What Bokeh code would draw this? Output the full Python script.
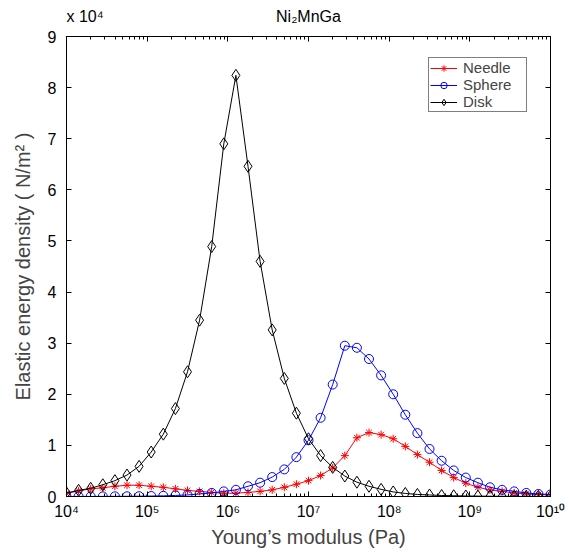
import numpy as np
from bokeh.plotting import figure
from bokeh.models import (Range1d, FixedTicker, LinearAxis, LogAxis,
                          Legend, LegendItem)
from bokeh.embed import file_html
from bokeh.resources import INLINE

# ---- data (values in units of 1e4 N/m^2) ----
youngs_modulus = np.logspace(4, 10, 41)

needle = [0.06, 0.11, 0.15, 0.17, 0.20, 0.22, 0.22, 0.20, 0.18, 0.15,
          0.12, 0.10, 0.08, 0.065, 0.065, 0.08, 0.10, 0.13, 0.18, 0.24,
          0.31, 0.41, 0.56, 0.80, 1.15, 1.25, 1.21, 1.13, 0.98, 0.82,
          0.67, 0.51, 0.37, 0.26, 0.18, 0.13, 0.10, 0.07, 0.05, 0.04, 0.03]

sphere = [0.0, 0.001, 0.001, 0.002, 0.003, 0.004, 0.006, 0.009, 0.013, 0.02,
          0.03, 0.05, 0.07, 0.10, 0.13, 0.20, 0.27, 0.38, 0.53, 0.77,
          1.10, 1.54, 2.19, 2.95, 2.91, 2.69, 2.37, 2.00, 1.60, 1.24,
          0.93, 0.70, 0.51, 0.37, 0.27, 0.18, 0.13, 0.10, 0.07, 0.05, 0.04]

disk = [0.07, 0.12, 0.16, 0.23, 0.31, 0.42, 0.59, 0.87, 1.22, 1.72,
        2.44, 3.45, 4.89, 6.90, 8.24, 6.46, 4.60, 3.26, 2.31, 1.63,
        1.13, 0.80, 0.57, 0.40, 0.28, 0.20, 0.14, 0.09, 0.06, 0.04,
        0.03, 0.02, 0.015, 0.01, 0.008, 0.005, 0.004, 0.003, 0.002, 0.001, 0.001]

x_ticks = [10**4, 10**5, 10**6, 10**7, 10**8, 10**9, 10**10]
x_tick_labels = ["10⁴", "10⁵", "10⁶", "10⁷", "10⁸", "10⁹", "10¹⁰"]
y_ticks = [0, 1, 2, 3, 4, 5, 6, 7, 8, 9]
title_text = "Ni₂MnGa"
multiplier_text = "x 10⁴"

FONT = "Liberation Sans"

p = figure(output_backend="svg", toolbar_location=None,
           x_axis_type="log",
           frame_width=484, frame_height=460,
           min_border_left=66, min_border_right=19,
           min_border_top=36, min_border_bottom=63,
           x_range=Range1d(1e4, 1e10), y_range=Range1d(0, 9))
p.grid.visible = False
p.outline_line_color = "black"
p.background_fill_color = "white"

minor = [k * 10**d for d in range(4, 10) for k in range(2, 10)]
xt = FixedTicker(ticks=x_ticks, minor_ticks=minor)
yt = FixedTicker(ticks=y_ticks)


def style_axis(ax, labels=True):
    ax.axis_line_color = "black"
    ax.major_tick_line_color = "black"
    ax.minor_tick_line_color = "black"
    ax.major_tick_in = 5
    ax.major_tick_out = 0
    ax.minor_tick_in = 3
    ax.minor_tick_out = 0
    ax.major_label_text_font = FONT
    ax.major_label_text_font_size = "16px"
    ax.major_label_text_color = "black"
    ax.axis_label_text_font = FONT
    ax.axis_label_text_font_size = "20px"
    ax.axis_label_text_font_style = "normal"
    if not labels:
        ax.major_label_text_font_size = "0px"
        ax.major_label_text_alpha = 0
        ax.major_label_standoff = 0


xa = p.xaxis[0]
xa.ticker = xt
xa.major_label_overrides = dict(zip(x_ticks, x_tick_labels))
xa.axis_label = "Young’s modulus (Pa)"
style_axis(xa)
xa.major_label_standoff = 6
xa.axis_label_standoff = 3

ya = p.yaxis[0]
ya.ticker = yt
ya.axis_label = "Elastic energy density ( N/m² )"
style_axis(ya)
ya.minor_tick_in = 0
ya.major_label_standoff = 10
ya.axis_label_standoff = 11

top = LogAxis(ticker=xt)
style_axis(top, labels=False)
p.add_layout(top, "above")
right = LinearAxis(ticker=yt)
style_axis(right, labels=False)
p.add_layout(right, "right")

# header row: multiplier (left) and title (centre) on one baseline
header_pos = [17000, 10**7]
header = LogAxis(ticker=FixedTicker(ticks=header_pos, minor_ticks=[]))
header.axis_line_color = None
header.major_tick_line_color = None
header.minor_tick_line_color = None
header.major_tick_in = 0
header.major_tick_out = 0
header.major_label_text_font = FONT
header.major_label_text_font_size = "16px"
header.major_label_text_color = "black"
header.major_label_standoff = 12
header.major_label_overrides = dict(zip(header_pos, [multiplier_text, title_text]))
p.add_layout(header, "above")

r_n = p.line(youngs_modulus, needle, line_color="red", line_width=1)
m_n = p.scatter(youngs_modulus, needle, marker="asterisk", size=8,
                line_color="red", line_width=1)
r_s = p.line(youngs_modulus, sphere, line_color="blue", line_width=1)
m_s = p.scatter(youngs_modulus, sphere, marker="circle", size=9,
                line_color="blue", fill_color=None, line_width=1)
r_d = p.line(youngs_modulus, disk, line_color="black", line_width=1)
m_d = p.scatter(youngs_modulus, disk, marker="diamond", size=12,
                line_color="black", fill_color=None, line_width=1)

legend = Legend(items=[
    LegendItem(label="Needle", renderers=[r_n, m_n]),
    LegendItem(label="Sphere", renderers=[r_s, m_s]),
    LegendItem(label="Disk", renderers=[r_d, m_d]),
], location=(362, 384))
legend.label_text_font = FONT
legend.label_text_font_size = "15px"
legend.label_height = 16
legend.glyph_height = 16
legend.glyph_width = 27
legend.label_width = 62
legend.spacing = 0
legend.padding = 1
legend.margin = 0
legend.label_standoff = 6
legend.border_line_color = "black"
legend.border_line_width = 1
legend.background_fill_alpha = 1
p.add_layout(legend, "center")

open("out.html", "w").write(file_html(p, INLINE))
